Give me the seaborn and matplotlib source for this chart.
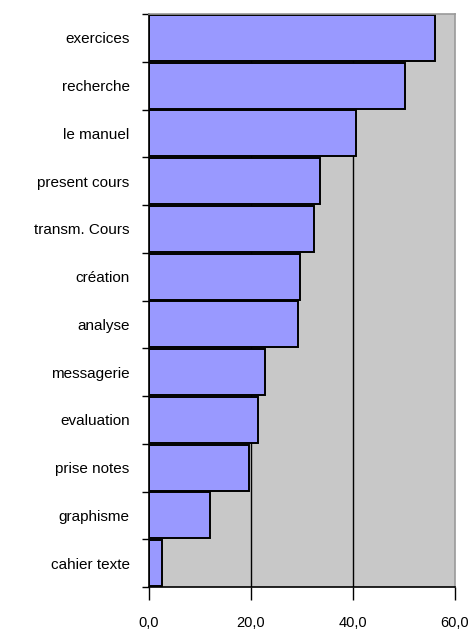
import numpy as np
import pandas as pd
import matplotlib
matplotlib.use("Agg")
import matplotlib.pyplot as plt
import seaborn as sns

# usage values
categories = ["exercices", "recherche", "le manuel", "present cours", "transm. Cours",
              "création", "analyse", "messagerie", "evaluation", "prise notes",
              "graphisme", "cahier texte"]
values = [56.1, 50.2, 40.6, 33.5, 32.3, 29.6, 29.2, 22.8, 21.3, 19.6, 12.0, 2.5]
xticks = [0, 20, 40, 60]
xtick_labels = ["0,0", "20,0", "40,0", "60,0"]

sns.set_style("white")
plt.rcParams["font.family"] = ["Liberation Sans", "DejaVu Sans"]

df = pd.DataFrame({"cat": categories, "val": values})

fig = plt.figure(figsize=(4.71, 6.33), dpi=100)
ax = fig.add_axes([149 / 471, 1 - 587 / 633, 306 / 471, 573 / 633])
ax.set_facecolor("#C8C8C8")

sns.barplot(data=df, x="val", y="cat", orient="h", color="#9999FF",
            saturation=1, edgecolor="black", linewidth=1.4, width=0.96, ax=ax)

ax.set_xlim(0, 60)
ax.set_ylim(len(categories) - 0.5, -0.5)
for xv in [20, 40]:
    ax.axvline(xv, color="black", lw=1, zorder=0)

ax.set_xticks(xticks)
ax.set_xticklabels(xtick_labels, fontsize=10.5)
ax.tick_params(axis="x", bottom=True, direction="out", length=9, width=1,
               color="black", labelcolor="black", pad=12)

# category separators as ticks, Excel style
ax.set_yticks(np.arange(-0.5, len(categories)), minor=True)
ax.tick_params(axis="y", which="minor", left=True, direction="out", length=5,
               width=1, color="black")
ax.tick_params(axis="y", which="major", left=False, length=0, pad=14,
               labelsize=11, labelcolor="black")

ax.set_xlabel("")
ax.set_ylabel("")
for side in ["left", "bottom"]:
    ax.spines[side].set_color("black")
    ax.spines[side].set_linewidth(1.2)
for side in ["top", "right"]:
    ax.spines[side].set_color("#9A9A9A")
    ax.spines[side].set_linewidth(1.2)

fig.savefig("out.png", dpi=100)
